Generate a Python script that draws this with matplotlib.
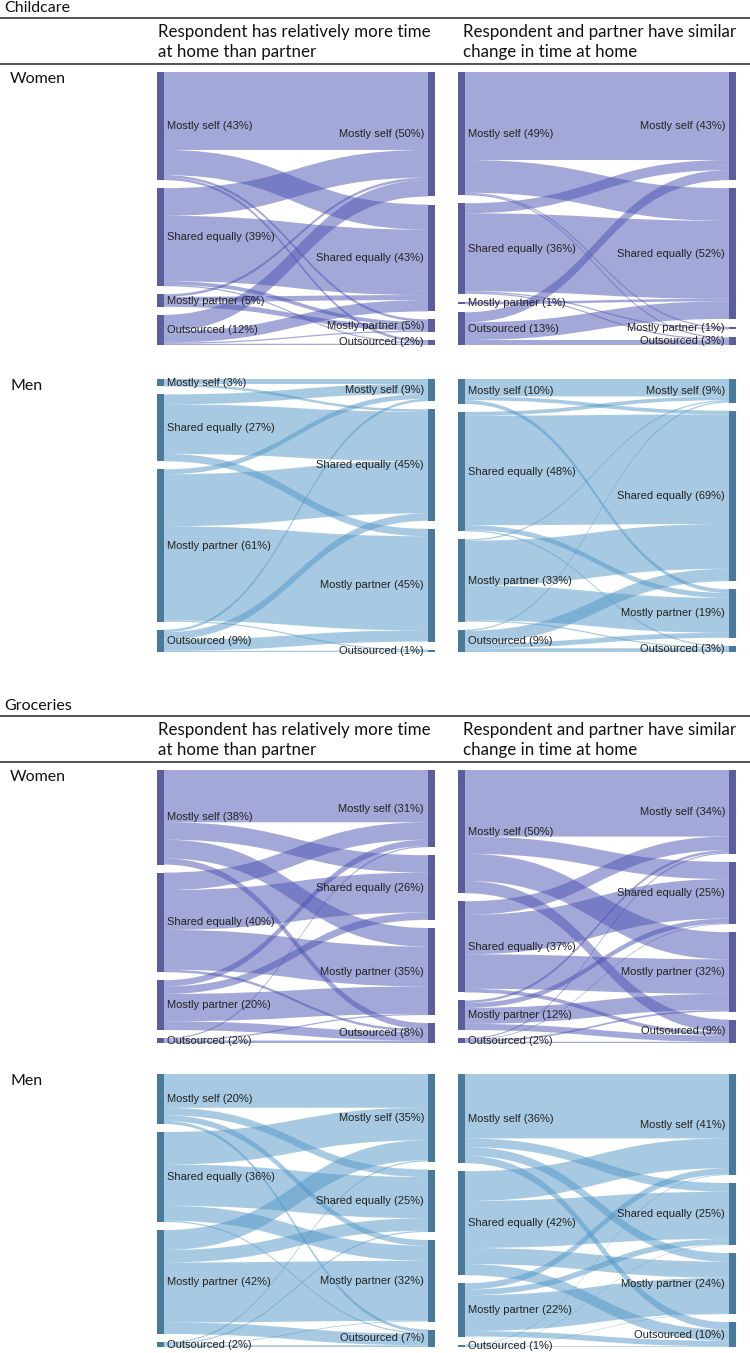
import numpy as np
import matplotlib.pyplot as plt
from matplotlib.path import Path
from matplotlib.patches import PathPatch

# --- DATOS ---
cats = ['Mostly self', 'Shared equally', 'Mostly partner', 'Outsourced']
col_heads = ['Respondent has relatively more time\nat home than partner',
             'Respondent and partner have similar\nchange in time at home']
sections = ['Childcare', 'Groceries']
rows = ['Women', 'Men']

# flujos en % (filas: antes, columnas: despues)
care_women_more = [[31, 10, 1, 1], [11, 26, 1.5, 0.5], [1, 2, 2, 0], [6.5, 4.5, 0.5, 0.5]]
care_women_same = [[35, 13, 0.5, 0.5], [4, 31, 0.5, 0.5], [0, 1, 0, 0], [4, 7, 0, 2]]
care_men_more = [[2, 1, 0, 0], [4, 20, 3, 0], [2, 21, 38, 0.5], [1, 3, 4.5, 0.5]]
care_men_same = [[7, 1.5, 1.5, 0], [1.5, 44, 2, 0.5], [0.5, 18, 14, 0.5], [0.5, 5, 2, 1.5]]
groc_women_more = [[21, 7, 7.5, 2.5], [7, 16, 16, 1], [2.5, 3, 11, 3.5], [0.5, 0, 0.5, 1]]
groc_women_same = [[27, 7, 11, 5], [5.5, 16, 14, 1.5], [1, 2, 6.5, 2.5], [0.5, 0.3, 0.7, 0.5]]
groc_men_more = [[13.5, 3, 2.3, 1.2], [13, 16.5, 6, 0.5], [8, 5, 24, 4.6], [0.5, 0.5, 0.3, 0.7]]
groc_men_same = [[26, 3.5, 3.5, 3], [12, 19, 6.5, 4.5], [2.5, 2.3, 14.5, 2.2], [0.3, 0.2, 0.2, 0.3]]

# porcentajes de las etiquetas
care_women_more_pct = ([43, 39, 5, 12], [50, 43, 5, 2])
care_women_same_pct = ([49, 36, 1, 13], [43, 52, 1, 3])
care_men_more_pct = ([3, 27, 61, 9], [9, 45, 45, 1])
care_men_same_pct = ([10, 48, 33, 9], [9, 69, 19, 3])
groc_women_more_pct = ([38, 40, 20, 2], [31, 26, 35, 8])
groc_women_same_pct = ([50, 37, 12, 2], [34, 25, 32, 9])
groc_men_more_pct = ([20, 36, 42, 2], [35, 25, 32, 7])
groc_men_same_pct = ([36, 42, 22, 1], [41, 25, 24, 10])

women_node, women_link = '#5a5e9c', '#4b53b3'
men_node, men_link = '#497a9b', '#5197c7'

W, H = 750, 1353
label_font = 'Liberation Sans'
head_font = 'Lato'


def sankey(ax, flows, pct, node_col, link_col, h_px=273, w_px=278):
    f = np.array(flows, float)
    src = f.sum(axis=1)
    dst = f.sum(axis=0)
    total = max(src.sum(), dst.sum()) / (1 - 3 * 8 / h_px)
    nw = 7 / w_px

    def tops(vals):
        gap = (total - vals.sum()) / 3
        return np.concatenate([[0], np.cumsum(vals[:-1] + gap)])

    ys, yt = tops(src), tops(dst)
    so, to = ys.copy(), yt.copy()
    x0, x1, xm = nw, 1 - nw, 0.5
    codes = [Path.MOVETO, Path.CURVE4, Path.CURVE4, Path.CURVE4, Path.LINETO,
             Path.CURVE4, Path.CURVE4, Path.CURVE4, Path.CLOSEPOLY]
    for i in range(4):
        for j in range(4):
            v = f[i, j]
            if v <= 0:
                continue
            a, b = so[i], to[j]
            so[i] += v
            to[j] += v
            verts = [(x0, a), (xm, a), (xm, b), (x1, b), (x1, b + v),
                     (xm, b + v), (xm, a + v), (x0, a + v), (x0, a)]
            ax.add_patch(PathPatch(Path(verts, codes), facecolor=link_col,
                                   alpha=0.5, edgecolor='none', zorder=1))
    ax.bar([nw / 2] * 4, src, width=nw, bottom=ys, color=node_col, zorder=2)
    ax.bar([1 - nw / 2] * 4, dst, width=nw, bottom=yt, color=node_col, zorder=2)
    for k in range(4):
        ax.text(nw + 0.01, ys[k] + src[k] / 2, f'{cats[k]} ({pct[0][k]}%)',
                ha='left', va='center', fontsize=8, family=label_font,
                color='#222222', zorder=3)
        ax.text(1 - nw - 0.014, yt[k] + dst[k] / 2, f'{cats[k]} ({pct[1][k]}%)',
                ha='right', va='center', fontsize=8, family=label_font,
                color='#222222', zorder=3)
    ax.set_xlim(0, 1)
    ax.set_ylim(total, 0)
    ax.axis('off')


fig = plt.figure(figsize=(W / 100, H / 100), dpi=100)
bg = fig.add_axes([0, 0, 1, 1])
bg.set_xlim(0, W)
bg.set_ylim(H, 0)
bg.axis('off')

# --- tablas ---
sec_top = [8, 706]
for s, y in zip(sections, sec_top):
    bg.text(4, y, s, fontsize=11.5, family=head_font, va='center', color='#111111')
    bg.plot([0, W], [y + 10, y + 10], color='#444444', lw=1.3)
    bg.plot([0, W], [y + 56, y + 56], color='#444444', lw=1.3)
    bg.text(158, y + 34, col_heads[0], fontsize=12.2, family=head_font, va='center',
            linespacing=1.25, color='#111111')
    bg.text(463, y + 34, col_heads[1], fontsize=12.2, family=head_font, va='center',
            linespacing=1.25, color='#111111')

panel_rows = [72, 379, 770, 1074]
panel_cols = [157, 458]
for r, y in enumerate(panel_rows):
    bg.text(10, y + 7, rows[r % 2], fontsize=11.5, family=head_font, va='center',
            color='#111111')

panels = [
    (care_women_more, care_women_more_pct, women_node, women_link),
    (care_women_same, care_women_same_pct, women_node, women_link),
    (care_men_more, care_men_more_pct, men_node, men_link),
    (care_men_same, care_men_same_pct, men_node, men_link),
    (groc_women_more, groc_women_more_pct, women_node, women_link),
    (groc_women_same, groc_women_same_pct, women_node, women_link),
    (groc_men_more, groc_men_more_pct, men_node, men_link),
    (groc_men_same, groc_men_same_pct, men_node, men_link),
]
for k, (fl, pc, nc, lc) in enumerate(panels):
    x = panel_cols[k % 2]
    y = panel_rows[k // 2]
    ax = fig.add_axes([x / W, 1 - (y + 273) / H, 278 / W, 273 / H])
    sankey(ax, fl, pc, nc, lc)

fig.savefig('out.png', dpi=100)
